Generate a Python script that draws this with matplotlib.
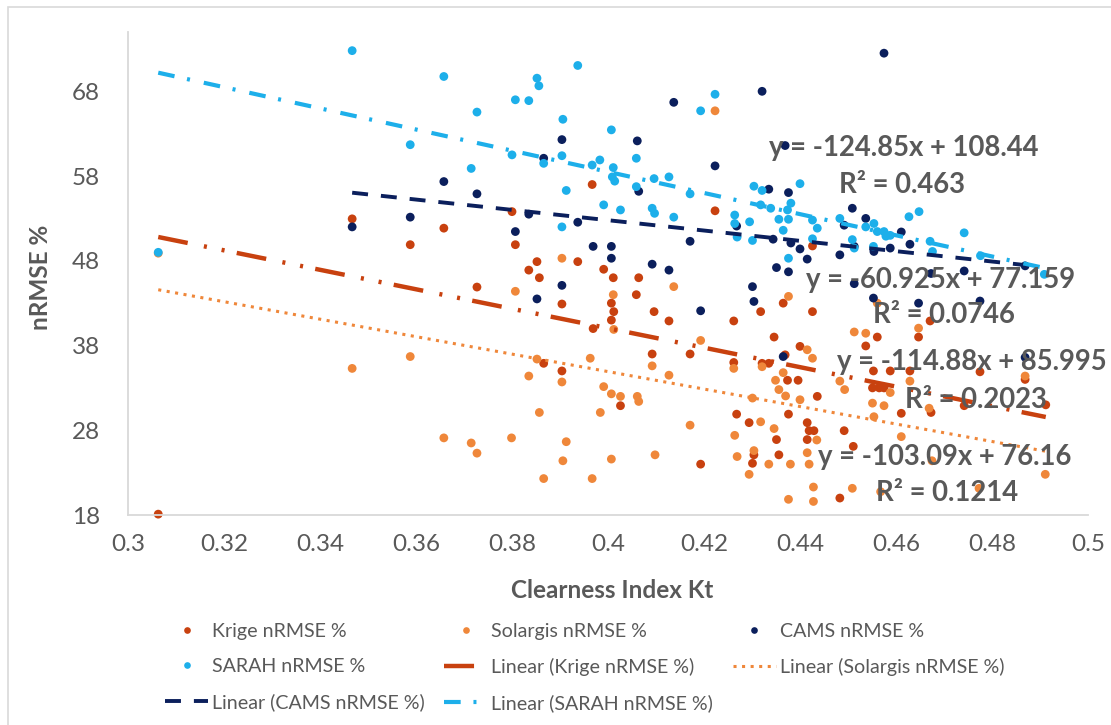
import matplotlib
matplotlib.use("Agg")
import matplotlib.pyplot as plt
from matplotlib.lines import Line2D
from matplotlib.patches import Rectangle
import numpy as np

plt.rcParams['font.family'] = ['Lato', 'DejaVu Sans']

# ---------------- data ----------------
krige_x = [0.3063, 0.3467, 0.3658, 0.3588, 0.3807, 0.3800, 0.3852, 0.3835, 0.3857, 0.3937,
           0.3727, 0.3904, 0.3866, 0.3904, 0.3967, 0.4223, 0.3991, 0.4011, 0.4064, 0.4426,
           0.4059, 0.4007, 0.4012, 0.4007, 0.4096, 0.4127, 0.3969, 0.4262, 0.4318, 0.4365,
           0.4426, 0.4346, 0.4400, 0.4092, 0.4171, 0.4262, 0.4321, 0.4335, 0.4369, 0.4374,
           0.4396, 0.4026, 0.4436, 0.4268, 0.4294, 0.4376, 0.4351, 0.4415, 0.4419, 0.4429,
           0.4415, 0.4492, 0.4304, 0.4301, 0.4356, 0.4193, 0.4483, 0.4671, 0.4561, 0.4647,
           0.4537, 0.4553, 0.4588, 0.4629, 0.4775, 0.4869, 0.4551, 0.4565, 0.4575, 0.4611,
           0.4673, 0.4742, 0.4912, 0.4511]
krige_y = [18.1, 52.95, 51.85, 49.9, 49.9, 53.8, 47.9, 46.9, 46.0, 47.9,
           44.9, 42.9, 35.9, 35.0, 57.0, 53.9, 47.0, 46.0, 46.0, 49.75,
           44.0, 43.0, 42.0, 41.0, 42.0, 40.9, 40.0, 40.9, 42.0, 43.0,
           42.0, 39.0, 37.9, 37.0, 37.0, 36.0, 35.9, 35.9, 36.9, 33.9,
           33.9, 30.9, 32.0, 29.9, 28.9, 29.9, 26.9, 28.9, 27.95, 27.95,
           26.9, 27.95, 25.1, 24.1, 25.1, 24.0, 20.0, 40.9, 39.0, 39.0,
           37.95, 35.0, 35.0, 35.0, 34.9, 34.0, 33.0, 33.0, 33.0, 30.0,
           30.1, 30.9, 31.0, 26.1]

solargis_x = [0.3063, 0.3904, 0.3807, 0.3467, 0.3588, 0.3852, 0.3835, 0.3904, 0.3857, 0.3658,
              0.3715, 0.3727, 0.3799, 0.3913, 0.3906, 0.3866, 0.3967, 0.3963, 0.4223, 0.4137,
              0.4011, 0.4376, 0.4012, 0.4193, 0.4415, 0.4426, 0.4092, 0.4127, 0.4262, 0.4321,
              0.4349, 0.4365, 0.4483, 0.4356, 0.4370, 0.4493, 0.3991, 0.4007, 0.4026, 0.4061,
              0.4064, 0.3984, 0.4301, 0.4400, 0.4171, 0.4264, 0.4318, 0.4346, 0.4435, 0.4007,
              0.4098, 0.4269, 0.4304, 0.4335, 0.4380, 0.4415, 0.4419, 0.4294, 0.4428, 0.4376,
              0.4428, 0.4513, 0.4537, 0.4561, 0.4647, 0.4629, 0.4588, 0.4551, 0.4575, 0.4554,
              0.4669, 0.4869, 0.4611, 0.4675, 0.4911, 0.4509, 0.4568, 0.4773]
solargis_y = [48.9, 48.3, 44.4, 35.3, 36.7, 36.4, 34.4, 33.7, 30.1, 27.1,
              26.5, 25.3, 27.1, 26.65, 24.4, 22.3, 22.3, 36.5, 65.7, 44.95,
              44.0, 43.8, 39.9, 38.6, 37.5, 36.5, 35.6, 34.5, 35.3, 35.5,
              33.9, 34.8, 33.8, 32.8, 32.05, 32.8, 33.15, 32.3, 32.0, 32.0,
              31.4, 30.1, 31.8, 31.6, 28.6, 27.4, 29.0, 28.2, 26.85, 24.6,
              25.1, 24.9, 25.6, 24.0, 24.0, 25.35, 24.0, 22.8, 21.3, 19.85,
              19.6, 39.6, 39.45, 43.0, 40.05, 33.8, 32.45, 31.2, 30.9, 29.6,
              30.6, 34.4, 27.25, 24.4, 22.8, 21.15, 20.75, 21.15]

cams_x = [0.3467, 0.3588, 0.3658, 0.3727, 0.3807, 0.3835, 0.3866, 0.3904, 0.3937, 0.3852,
          0.3904, 0.4137, 0.4321, 0.4061, 0.4223, 0.4064, 0.4335, 0.4376, 0.4369, 0.4268,
          0.4171, 0.3969, 0.4007, 0.4007, 0.4092, 0.4127, 0.4344, 0.4381, 0.4400, 0.4415,
          0.4351, 0.4376, 0.4483, 0.4492, 0.4509, 0.4575, 0.4537, 0.4611, 0.4513, 0.4554,
          0.4588, 0.4629, 0.4869, 0.4742, 0.4513, 0.4673, 0.4553, 0.4647, 0.4775, 0.4869,
          0.4301, 0.4304, 0.4193, 0.4365]
cams_y = [52.0, 53.15, 57.35, 55.9, 51.45, 53.5, 60.1, 62.3, 52.55, 43.5,
          45.1, 66.7, 68.0, 62.15, 59.2, 56.2, 56.45, 56.05, 61.6, 52.1,
          50.3, 49.7, 49.7, 48.3, 47.6, 46.9, 50.55, 50.1, 49.4, 48.2,
          47.2, 46.7, 48.7, 52.2, 54.2, 72.5, 53.0, 51.4, 49.7, 49.1,
          49.5, 49.95, 47.4, 46.8, 45.3, 46.5, 43.6, 43.0, 43.25, 36.6,
          44.95, 43.2, 42.1, 36.7]

sarah_x = [0.3063, 0.3467, 0.3658, 0.3852, 0.3856, 0.3937, 0.3807, 0.3835, 0.3727, 0.3906,
           0.3588, 0.3800, 0.3866, 0.3904, 0.3715, 0.3913, 0.3904, 0.4223, 0.4193, 0.4007,
           0.3983, 0.3967, 0.4059, 0.4011, 0.4009, 0.4014, 0.4059, 0.4096, 0.4127, 0.4171,
           0.3991, 0.4026, 0.4092, 0.4097, 0.4137, 0.4400, 0.4304, 0.4321, 0.4381, 0.4374,
           0.4318, 0.4339, 0.4356, 0.4376, 0.4264, 0.4264, 0.4295, 0.4365, 0.4269, 0.4301,
           0.4426, 0.4436, 0.4483, 0.4376, 0.4426, 0.4627, 0.4648, 0.4537, 0.4554, 0.4561,
           0.4575, 0.4579, 0.4588, 0.4509, 0.4513, 0.4553, 0.4671, 0.4676, 0.4742, 0.4776,
           0.4909]
sarah_y = [49.0, 72.8, 69.75, 69.55, 68.65, 71.05, 67.0, 66.9, 65.55, 64.7,
           61.7, 60.5, 59.5, 60.4, 58.9, 56.3, 52.0, 67.65, 65.7, 63.45,
           59.9, 59.3, 60.1, 59.0, 57.9, 57.4, 56.75, 57.7, 57.9, 55.9,
           54.6, 54.0, 54.2, 53.6, 53.15, 57.1, 56.8, 56.3, 54.8, 54.0,
           54.6, 54.2, 52.9, 52.9, 53.4, 52.4, 52.6, 51.6, 50.8, 50.4,
           52.8, 51.85, 53.0, 48.3, 50.6, 53.2, 53.8, 52.0, 52.4, 51.45,
           51.45, 50.9, 51.0, 50.5, 49.5, 49.7, 50.3, 49.1, 51.3, 48.6,
           46.4]

series_names = ["Krige nRMSE %", "Solargis nRMSE %", "CAMS nRMSE %", "SARAH nRMSE %"]
trend_slopes = [-114.88, -103.09, -60.925, -124.85]
trend_intercepts = [85.995, 76.16, 77.159, 108.44]
trend_r2 = [0.2023, 0.1214, 0.0746, 0.463]

x_ticks = [0.3, 0.32, 0.34, 0.36, 0.38, 0.4, 0.42, 0.44, 0.46, 0.48, 0.5]
y_ticks = [18, 28, 38, 48, 58, 68]

# ---------------- style ----------------
colors = ["#C8410F", "#EF873A", "#0B1F5C", "#1DAFEA"]
W, H = 1111, 725
grey = "#595959"

fig = plt.figure(figsize=(W / 100, H / 100), dpi=100)
fig.patch.set_facecolor("white")
ax_left, ax_right, ax_bottom, ax_top = 128, 1088, 515, 32
ax = fig.add_axes([ax_left / W, 1 - ax_bottom / H, (ax_right - ax_left) / W, (ax_bottom - ax_top) / H])
ax.set_xlim(0.3, 0.5)
ax.set_ylim(18, 75)

xs = [krige_x, solargis_x, cams_x, sarah_x]
ys = [krige_y, solargis_y, cams_y, sarah_y]

for i in range(4):
    ax.scatter(xs[i], ys[i], s=40, color=colors[i], edgecolors="none", zorder=2 + i * 0.01,
               clip_on=False)

# dash patterns (in units of linewidth)
styles = [
    dict(lw=3.2, ls=(0, (6.76, 3.72, 0.68, 3.38, 0.68, 2.8))),   # long dash dot dot
    dict(lw=2.2, ls=(0, (1.0, 1.8))),                           # round dot
    dict(lw=2.8, ls=(0, (4.1, 3.33))),                          # dash
    dict(lw=3.0, ls=(0, (4.0, 3.07, 0.72, 3.4))),               # dash dot
]

trend_handles = []
for i in range(4):
    xmin, xmax = min(xs[i]), max(xs[i])
    tx = np.array([xmin, xmax])
    ty = trend_slopes[i] * tx + trend_intercepts[i]
    ax.plot(tx, ty, color=colors[i], linewidth=styles[i]["lw"], linestyle=styles[i]["ls"],
            zorder=4, solid_capstyle="butt", dash_capstyle="butt")
    trend_handles.append(Line2D([], [], color=colors[i], linewidth=styles[i]["lw"],
                                linestyle=styles[i]["ls"]))

# trendline equation labels (figure-pixel centres)
label_pos = [((972, 362), (976, 400)),
             ((945, 457), (947, 493)),
             ((941, 280), (944, 315)),
             ((904, 148), (902, 185))]
for i in range(4):
    (ex, ey), (rx, ry) = label_pos[i]
    fig.text(ex / W, 1 - ey / H, f"y = {trend_slopes[i]}x + {trend_intercepts[i]}",
             ha="center", va="center", fontsize=19.8, fontweight="bold", color=grey, zorder=1)
    fig.text(rx / W, 1 - ry / H, f"R\u00b2 = {trend_r2[i]}",
             ha="center", va="center", fontsize=19.8, fontweight="bold", color=grey, zorder=1)

# axes styling
for s in ["top", "right"]:
    ax.spines[s].set_visible(False)
for s in ["left", "bottom"]:
    ax.spines[s].set_color("#D9D9D9")
    ax.spines[s].set_linewidth(1.3)
ax.set_xticks(x_ticks)
ax.set_xticklabels([f"{v:g}" for v in x_ticks])
ax.set_yticks(y_ticks)
ax.set_yticklabels([str(v) for v in y_ticks])
ax.tick_params(axis="both", length=0, labelsize=17.5, labelcolor=grey)
ax.tick_params(axis="y", pad=20)
ax.tick_params(axis="x", pad=14)

fig.text(612 / W, 1 - 590 / H, "Clearness Index Kt", ha="center", va="center",
         fontsize=17.5, fontweight="bold", color=grey)
fig.text(40 / W, 1 - 277 / H, "nRMSE %", ha="center", va="center", rotation=90,
         fontsize=17.5, fontweight="bold", color=grey)

# legend (column-major ordering to get row-wise reading)
scatter_handles = [Line2D([], [], marker="o", ls="none", color=colors[i], markersize=4.8,
                          markeredgewidth=0) for i in range(4)]
trend_names = [f"Linear ({n})" for n in series_names]
all_h = scatter_handles + trend_handles
all_l = series_names + trend_names
order = [0, 3, 6, 1, 4, 7, 2, 5]
leg = fig.legend([all_h[k] for k in order], [all_l[k] for k in order], ncol=3,
                 loc="upper left", bbox_to_anchor=(165 / W, 1 - 623 / H), frameon=False,
                 fontsize=14.1, handlelength=2.2, handletextpad=0.2, columnspacing=1.0,
                 labelspacing=0.92, labelcolor=grey, borderaxespad=0, borderpad=0)

# outer chart border
fig.add_artist(Rectangle((8 / W, -0.2), 1.5, 1 - 7 / H + 0.2, transform=fig.transFigure,
                         fill=False, edgecolor="#D9D9D9", linewidth=1.2))

fig.savefig("out.png", dpi=100, facecolor="white")
